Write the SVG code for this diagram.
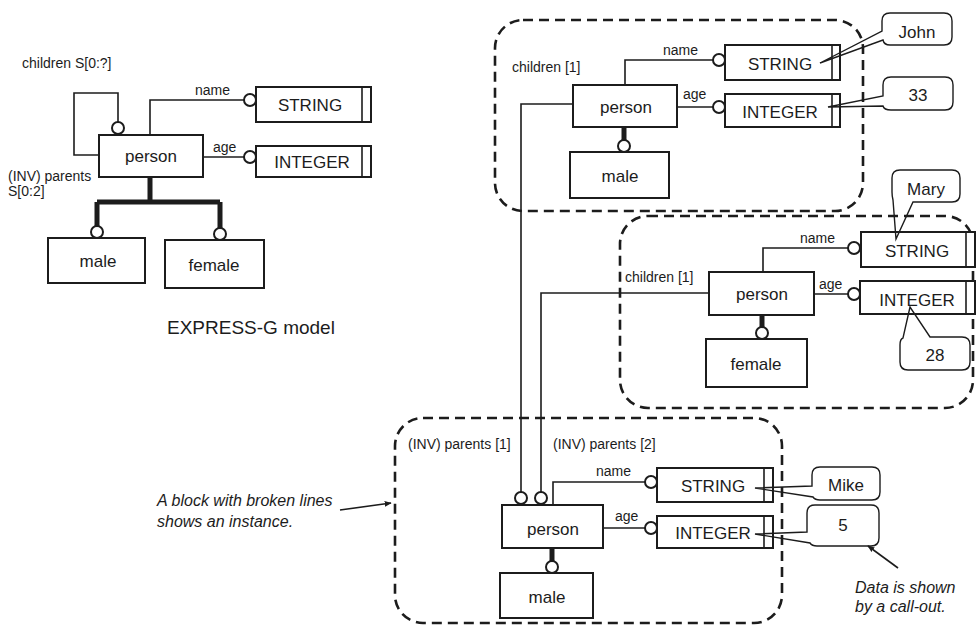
<svg xmlns="http://www.w3.org/2000/svg" width="976" height="630" viewBox="0 0 976 630">
<defs>
<style>
text{font-family:"Liberation Sans",Arial,sans-serif;fill:#1c1c1c}
.bt{font-size:17px;text-anchor:middle}
.lb{font-size:14px}
.it{font-size:16px;font-style:italic}
.box{fill:#fff;stroke:#1c1c1c;stroke-width:2}
.ln{fill:none;stroke:#1c1c1c;stroke-width:1.6}
.thick{fill:none;stroke:#1c1c1c;stroke-width:5}
.circ{fill:#fff;stroke:#1c1c1c;stroke-width:2}
.inst{fill:none;stroke:#1c1c1c;stroke-width:2.6;stroke-dasharray:10 6}
.co{fill:none;stroke:#1c1c1c;stroke-width:1.4}
</style>
<marker id="ah" viewBox="0 0 10 10" refX="9" refY="5" markerWidth="7" markerHeight="7" orient="auto" markerUnits="userSpaceOnUse">
<path d="M0,1 L10,5 L0,9 Z" fill="#1c1c1c"/>
</marker>
</defs>
<rect width="976" height="630" fill="#fff"/>

<!-- instance blocks -->
<g id="instance-john">
<rect class="inst" x="495" y="20" width="368" height="191" rx="28"/>
</g>
<g id="instance-mary">
<rect class="inst" x="620" y="216" width="353" height="192" rx="28"/>
</g>
<g id="instance-mike">
<rect class="inst" x="395" y="418" width="387" height="205" rx="28"/>
</g>

<!-- connectors -->
<g id="connectors">
<!-- left model -->
<path class="ln" d="M99,155 H74 V93 H118 V122"/>
<path class="ln" d="M150,135 V100 H244"/>
<path class="ln" d="M203,157 H244"/>
<path class="thick" d="M150,177 V202 M97,202 H220 M97,202 V226 M220,202 V228"/>
<!-- top instance -->
<path class="ln" d="M625,85 V60 H713"/>
<path class="ln" d="M677,107 H713"/>
<path class="thick" d="M624,127 V140"/>
<path class="ln" d="M573,104 H521 V492"/>
<!-- middle instance -->
<path class="ln" d="M763,272 V248 H848"/>
<path class="ln" d="M814,294 H848"/>
<path class="thick" d="M762,315 V327"/>
<path class="ln" d="M709,293 H541 V492"/>
<!-- bottom instance -->
<path class="ln" d="M553,505 V482 H645"/>
<path class="ln" d="M603,528 H645"/>
<path class="thick" d="M552,548 V561"/>
<!-- annotation arrows -->
<path class="ln" d="M340,510 L391,503" marker-end="url(#ah)"/>
<path class="ln" d="M898,568 L868,546" marker-end="url(#ah)"/>
</g>

<!-- circles -->
<g id="circles">
<circle class="circ" cx="118" cy="128" r="6"/>
<circle class="circ" cx="250" cy="100" r="6"/>
<circle class="circ" cx="250" cy="157" r="6"/>
<circle class="circ" cx="97" cy="232" r="6"/>
<circle class="circ" cx="220" cy="234" r="6"/>
<circle class="circ" cx="719" cy="60" r="6"/>
<circle class="circ" cx="719" cy="107" r="6"/>
<circle class="circ" cx="624" cy="146" r="6"/>
<circle class="circ" cx="854" cy="248" r="6"/>
<circle class="circ" cx="854" cy="294" r="6"/>
<circle class="circ" cx="762" cy="333" r="6"/>
<circle class="circ" cx="651" cy="482" r="6"/>
<circle class="circ" cx="651" cy="528" r="6"/>
<circle class="circ" cx="552" cy="567" r="6"/>
<circle class="circ" cx="521" cy="498" r="6"/>
<circle class="circ" cx="541" cy="498" r="6"/>
</g>

<!-- left EXPRESS-G model -->
<g id="m-person"><rect class="box" x="99" y="135" width="104" height="42"/><text class="bt" x="151" y="162">person</text></g>
<g id="m-string"><rect class="box" x="256" y="87" width="115" height="35"/><line class="ln" x1="362" y1="87" x2="362" y2="122" stroke-width="2"/><text class="bt" x="310" y="111">STRING</text></g>
<g id="m-integer"><rect class="box" x="256" y="146" width="115" height="31"/><line class="ln" x1="362" y1="146" x2="362" y2="177" stroke-width="2"/><text class="bt" x="312" y="168">INTEGER</text></g>
<g id="m-male"><rect class="box" x="48" y="238" width="97" height="45"/><text class="bt" x="98" y="267">male</text></g>
<g id="m-female"><rect class="box" x="165" y="240" width="99" height="48"/><text class="bt" x="214" y="271">female</text></g>
<g id="m-labels">
<text class="lb" x="22" y="68">children S[0:?]</text>
<text class="lb" x="195" y="95">name</text>
<text class="lb" x="213" y="152">age</text>
<text class="lb" x="8" y="181">(INV) parents</text>
<text class="lb" x="8" y="196">S[0:2]</text>
<text x="167" y="334" font-size="19">EXPRESS-G model</text>
</g>

<!-- top instance nodes -->
<g id="i1-person"><rect class="box" x="573" y="85" width="104" height="42"/><text class="bt" x="626" y="113">person</text></g>
<g id="i1-string"><rect class="box" x="725" y="45" width="115" height="35"/><line class="ln" x1="832" y1="45" x2="832" y2="80" stroke-width="2"/><text class="bt" x="780" y="70">STRING</text></g>
<g id="i1-integer"><rect class="box" x="725" y="94" width="115" height="33"/><line class="ln" x1="832" y1="94" x2="832" y2="127" stroke-width="2"/><text class="bt" x="780" y="118">INTEGER</text></g>
<g id="i1-male"><rect class="box" x="570" y="152" width="99" height="46"/><text class="bt" x="620" y="182">male</text></g>
<g id="i1-labels">
<text class="lb" x="512" y="72">children [1]</text>
<text class="lb" x="663" y="55">name</text>
<text class="lb" x="683" y="99">age</text>
</g>
<g id="co-john"><path class="co" d="M890,13 H944 Q952,13 952,21 V37 Q952,45 944,45 H890 Q884,45 883,40 L820,63 L882,31 V21 Q882,13 890,13 Z"/><text class="bt" x="917" y="38">John</text></g>
<g id="co-33"><path class="co" d="M891,77 H945 Q953,77 953,85 V102 Q953,110 945,110 H891 Q884,110 883,106 L828,107 L883,96 V85 Q883,77 891,77 Z"/><text class="bt" x="918" y="101">33</text></g>

<!-- middle instance nodes -->
<g id="i2-person"><rect class="box" x="709" y="272" width="105" height="43"/><text class="bt" x="762" y="300">person</text></g>
<g id="i2-string"><rect class="box" x="861" y="232" width="114" height="35"/><line class="ln" x1="966" y1="232" x2="966" y2="267" stroke-width="2"/><text class="bt" x="917" y="257">STRING</text></g>
<g id="i2-integer"><rect class="box" x="860" y="281" width="115" height="33"/><line class="ln" x1="966" y1="281" x2="966" y2="314" stroke-width="2"/><text class="bt" x="917" y="306">INTEGER</text></g>
<g id="i2-female"><rect class="box" x="706" y="339" width="101" height="48"/><text class="bt" x="756" y="370">female</text></g>
<g id="i2-labels">
<text class="lb" x="625" y="282">children [1]</text>
<text class="lb" x="800" y="243">name</text>
<text class="lb" x="819" y="289">age</text>
</g>
<g id="co-mary"><path class="co" d="M900,170 H952 Q960,170 960,178 V194 Q960,202 952,202 H913 L896,239 L893,200 Q892,196 892,192 V178 Q892,170 900,170 Z"/><text class="bt" x="926" y="195">Mary</text></g>
<g id="co-28"><path class="co" d="M930,337 H962 Q970,337 970,345 V362 Q970,370 962,370 H908 Q900,370 900,362 V345 Q900,339 903,338 L910,307 Z"/><text class="bt" x="935" y="361">28</text></g>

<!-- bottom instance nodes -->
<g id="i3-person"><rect class="box" x="502" y="505" width="101" height="43"/><text class="bt" x="553" y="535">person</text></g>
<g id="i3-string"><rect class="box" x="657" y="468" width="116" height="34"/><line class="ln" x1="764" y1="468" x2="764" y2="502" stroke-width="2"/><text class="bt" x="713" y="492">STRING</text></g>
<g id="i3-integer"><rect class="box" x="657" y="516" width="116" height="32"/><line class="ln" x1="764" y1="516" x2="764" y2="548" stroke-width="2"/><text class="bt" x="713" y="539">INTEGER</text></g>
<g id="i3-male"><rect class="box" x="500" y="573" width="93" height="45"/><text class="bt" x="547" y="603">male</text></g>
<g id="i3-labels">
<text class="lb" x="408" y="449">(INV) parents [1]</text>
<text class="lb" x="553" y="449">(INV) parents [2]</text>
<text class="lb" x="596" y="476">name</text>
<text class="lb" x="615" y="521">age</text>
</g>
<g id="co-mike"><path class="co" d="M820,467 H872 Q880,467 880,475 V492 Q880,500 872,500 H820 Q815,500 813,497 L755,488 L812,486 V475 Q812,467 820,467 Z"/><text class="bt" x="846" y="491">Mike</text></g>
<g id="co-5"><path class="co" d="M815,505 H871 Q879,505 879,513 V538 Q879,546 871,546 H817 Q812,546 810,543 L755,534 L807,532 V513 Q807,505 815,505 Z"/><text class="bt" x="843" y="531">5</text></g>

<!-- annotations -->
<g id="notes">
<text class="it" x="157" y="506">A block with broken lines</text>
<text class="it" x="157" y="527">shows an instance.</text>
<text class="it" x="855" y="593">Data is shown</text>
<text class="it" x="855" y="612">by a call-out.</text>
</g>
</svg>
